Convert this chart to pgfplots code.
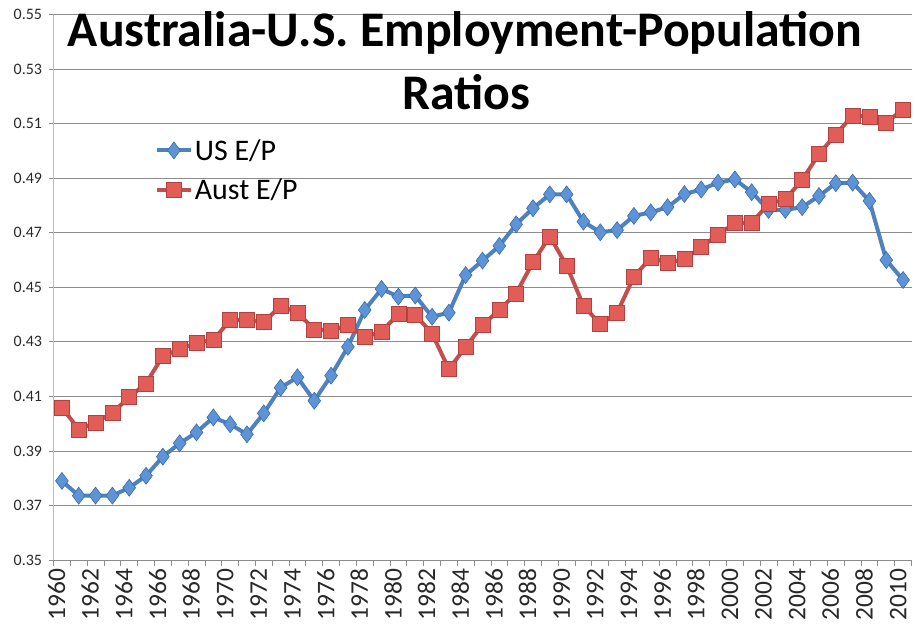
\documentclass[border=0pt]{standalone}
\usepackage{fontspec}
\setmainfont{Carlito}
\usepackage{pgfplots}
\pgfplotsset{compat=1.18}

\definecolor{usline}{RGB}{79,129,189}
\definecolor{usfill}{RGB}{92,148,215}
\definecolor{usdraw}{RGB}{60,108,170}
\definecolor{auline}{RGB}{192,80,77}
\definecolor{aufill}{RGB}{226,92,88}
\definecolor{audraw}{RGB}{178,66,63}
\definecolor{gridgray}{RGB}{140,140,140}
\definecolor{axisgray}{RGB}{190,190,190}
\definecolor{ticktext}{RGB}{40,40,40}

\begin{document}
\begin{tikzpicture}
\path[use as bounding box] (0,0) rectangle (915bp,626bp);

\begin{axis}[
  at={(53.5bp,66bp)}, anchor=south west,
  scale only axis,
  width=858bp, height=545.3bp,
  xmin=1959.5, xmax=2010.5,
  ymin=0.35, ymax=0.55,
  ytick={0.35,0.37,...,0.551},
  yticklabel style={/pgf/number format/fixed, /pgf/number format/precision=2,
    /pgf/number format/fixed zerofill, font=\fontsize{16}{18}\selectfont, xshift=-3bp},
  xtick={1960,1962,...,2010},
  minor xtick={1959.5,1960.5,...,2010.6},
  xticklabel style={rotate=90, anchor=east, /pgf/number format/1000 sep={},
    font=\fontsize{25.5}{28}\selectfont, inner ysep=0pt,
    text height=0.64em, text depth=0pt},
  /pgf/number format/assume math mode=true,
  tick label style={text=ticktext},
  major x tick style={draw=none},
  minor x tick style={draw=gridgray, line width=0.8pt},
  minor tick length=6bp,
  major tick length=5bp,
  y tick style={draw=gridgray, line width=0.8pt},
  tick align=outside,
  tick pos=left,
  axis x line*=bottom, axis y line*=left,
  x axis line style={draw=gridgray, line width=0.8pt, -},
  y axis line style={draw=axisgray, line width=1.2pt, -},
  ymajorgrids,
  y grid style={draw=gridgray, line width=0.8pt},
  clip=false,
  legend cell align=left,
  legend style={draw=none, fill=none, inner sep=0pt,
    font=\fontsize{30}{34}\selectfont,
    at={(0.118,0.715)}, anchor=west, row sep=13bp},
  legend image code/.code={
    \draw[mark repeat=2, mark phase=2] plot coordinates {(0bp,0bp) (17bp,0bp) (34bp,0bp)};
  },
]

\addplot[usline, line width=4bp, mark=diamond*, mark size=8.5bp,
  mark options={fill=usfill, draw=usdraw, line width=0.6bp}]
coordinates {
(1960,0.379) (1961,0.3736) (1962,0.3736) (1963,0.3736) (1964,0.3765)
(1965,0.3809) (1966,0.3879) (1967,0.3928) (1968,0.3968) (1969,0.4023)
(1970,0.3998) (1971,0.3961) (1972,0.4038) (1973,0.4132) (1974,0.417)
(1975,0.4084) (1976,0.4176) (1977,0.4282) (1978,0.4417) (1979,0.4494)
(1980,0.4466) (1981,0.447) (1982,0.4392) (1983,0.4407) (1984,0.4545)
(1985,0.4598) (1986,0.4652) (1987,0.4731) (1988,0.479) (1989,0.4841)
(1990,0.4841) (1991,0.4741) (1992,0.4702) (1993,0.471) (1994,0.4762)
(1995,0.4775) (1996,0.4794) (1997,0.4842) (1998,0.4859) (1999,0.4884)
(2000,0.4896) (2001,0.4849) (2002,0.4784) (2003,0.4784) (2004,0.4794)
(2005,0.4835) (2006,0.4882) (2007,0.4884) (2008,0.4817) (2009,0.460)
(2010,0.4527)
};
\addlegendentry{US E/P}

\addplot[auline, line width=4bp, mark=square*, mark size=7.5bp,
  mark options={fill=aufill, draw=audraw, line width=0.6bp}]
coordinates {
(1960,0.406) (1961,0.3979) (1962,0.4004) (1963,0.404) (1964,0.4097)
(1965,0.4148) (1966,0.4248) (1967,0.4273) (1968,0.4297) (1969,0.4307)
(1970,0.438) (1971,0.438) (1972,0.4372) (1973,0.4432) (1974,0.4407)
(1975,0.4346) (1976,0.4341) (1977,0.4362) (1978,0.4317) (1979,0.4338)
(1980,0.4402) (1981,0.4399) (1982,0.4331) (1983,0.420) (1984,0.4282)
(1985,0.4362) (1986,0.4417) (1987,0.4478) (1988,0.4592) (1989,0.4687)
(1990,0.458) (1991,0.4433) (1992,0.4365) (1993,0.4407) (1994,0.4539)
(1995,0.4609) (1996,0.459) (1997,0.4604) (1998,0.4647) (1999,0.4694)
(2000,0.4735) (2001,0.4737) (2002,0.4806) (2003,0.4823) (2004,0.4894)
(2005,0.4989) (2006,0.5061) (2007,0.513) (2008,0.5126) (2009,0.5104)
(2010,0.5153)
};
\addlegendentry{Aust E/P}
\end{axis}

\node[anchor=base, inner sep=0pt, font=\bfseries\fontsize{50}{56}\selectfont]
  at (465bp,579bp) {Australia-U.S. Employment-Population};
\node[anchor=base, inner sep=0pt, font=\bfseries\fontsize{50}{56}\selectfont]
  at (466bp,516bp) {Ratios};
\end{tikzpicture}
\end{document}
